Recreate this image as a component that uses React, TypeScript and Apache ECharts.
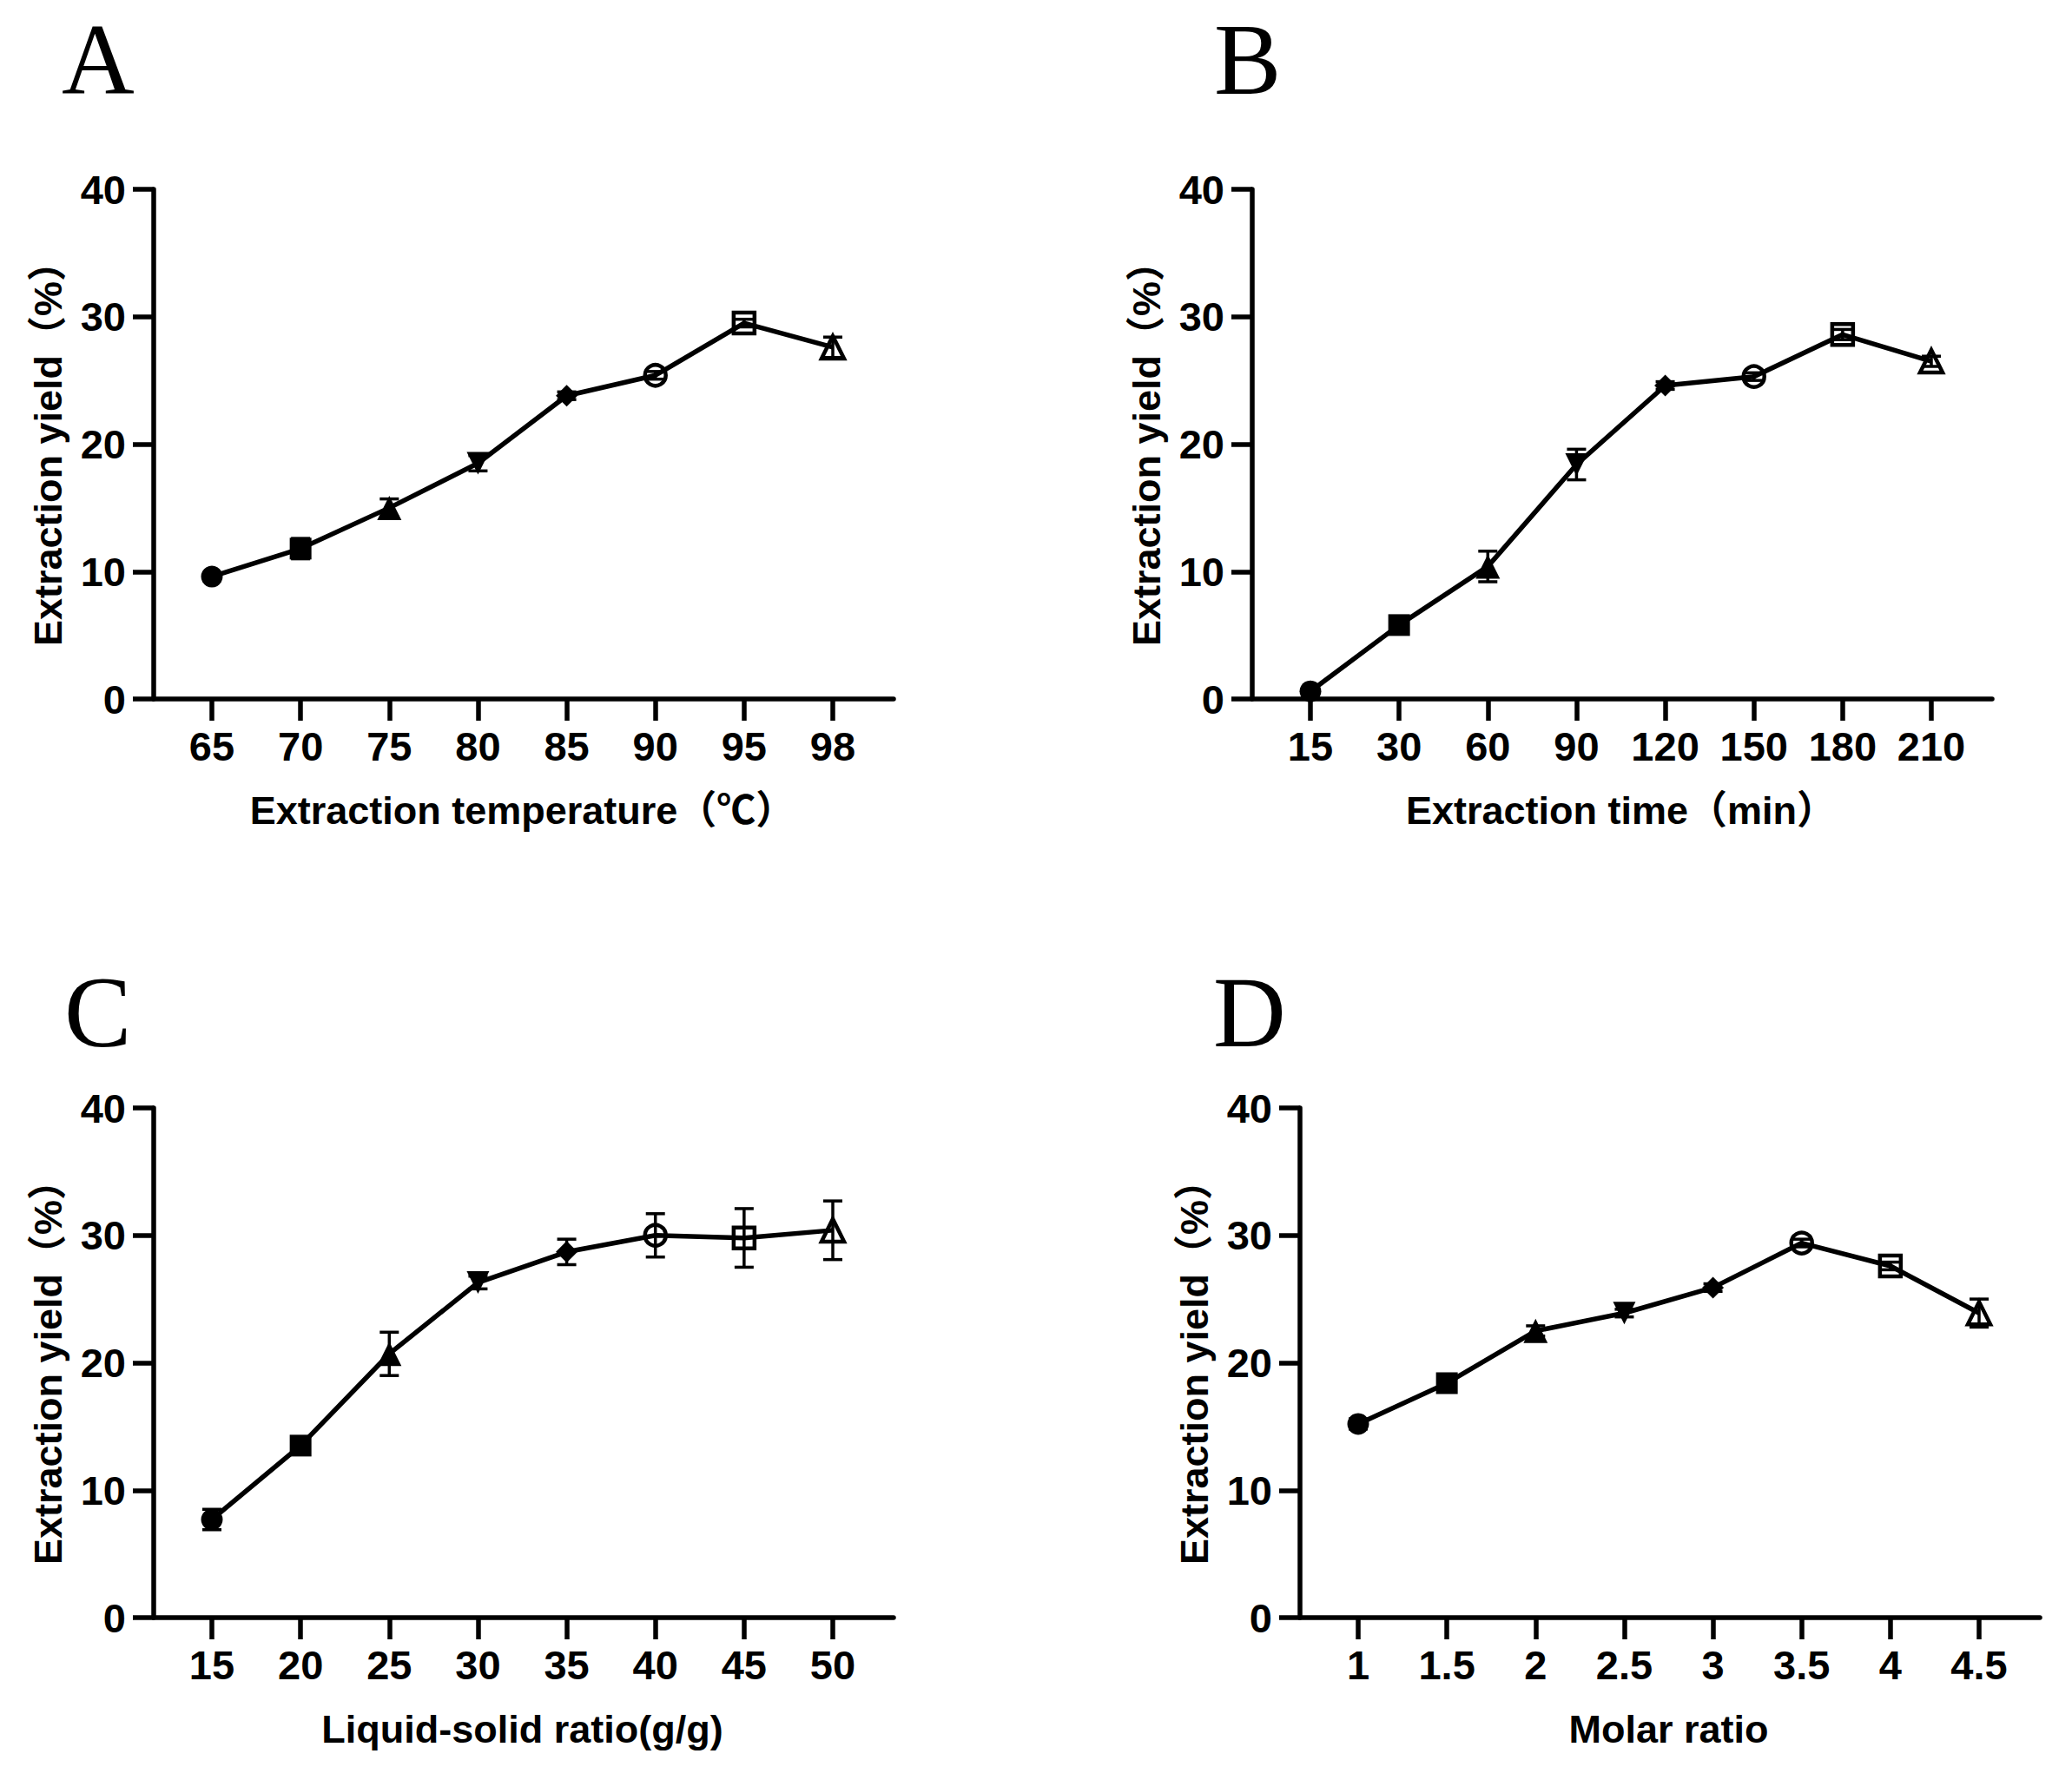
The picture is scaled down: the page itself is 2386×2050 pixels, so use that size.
import React, { useEffect, useRef } from 'react';
import * as echarts from 'echarts';

// ---- data ----
const tempLabels = ['65', '70', '75', '80', '85', '90', '95', '98'];
const tempYield = [9.6, 11.8, 15.0, 18.5, 23.8, 25.4, 29.5, 27.6];
const tempErr = [0.3, 0.8, 0.7, 0.6, 0.3, 0.3, 0.3, 0.8];

const timeLabels = ['15', '30', '60', '90', '120', '150', '180', '210'];
const timeYield = [0.6, 5.8, 10.4, 18.4, 24.6, 25.3, 28.6, 26.5];
const timeErr = [0.2, 0.3, 1.2, 1.2, 0.3, 0.3, 0.4, 0.4];

const ratioLabels = ['15', '20', '25', '30', '35', '40', '45', '50'];
const ratioYield = [7.7, 13.5, 20.7, 26.3, 28.7, 30.0, 29.8, 30.4];
const ratioErr = [0.8, 0.3, 1.7, 0.5, 1.0, 1.7, 2.3, 2.3];

const molarLabels = ['1', '1.5', '2', '2.5', '3', '3.5', '4', '4.5'];
const molarYield = [15.2, 18.4, 22.5, 23.9, 25.9, 29.4, 27.6, 23.9];
const molarErr = [0.4, 0.2, 0.4, 0.3, 0.3, 0.3, 0.3, 1.1];

const yTitle = 'Extraction yield（%）';

const FONT = "'Liberation Sans', Arial, 'Noto Sans CJK SC', sans-serif";
const NARROW = "'Liberation Sans Narrow', 'Arial Narrow', 'Liberation Sans', sans-serif";
const SERIF = "'Liberation Serif', 'Times New Roman', serif";

// panel placement: x of the y axis, y of the x axis (px)
const panels = [
  { letter: 'A', ax: 177, ay: 805, lx: 71, ly: 11, xName: 'Extraction temperature（℃）', labels: tempLabels, values: tempYield, errs: tempErr },
  { letter: 'B', ax: 1442, ay: 805, lx: 1398, ly: 11, xName: 'Extraction time（min）', labels: timeLabels, values: timeYield, errs: timeErr },
  { letter: 'C', ax: 177, ay: 1863, lx: 74, ly: 1108, xName: 'Liquid-solid ratio(g/g)', labels: ratioLabels, values: ratioYield, errs: ratioErr },
  { letter: 'D', ax: 1497, ay: 1863, lx: 1397, ly: 1108, xName: 'Molar ratio', labels: molarLabels, values: molarYield, errs: molarErr },
];

const PLOT_H = 587;
const AXIS_LEN = 852;
const PAD = 67;
const INNER_W = 715;

const hollow = { color: 'transparent', borderColor: '#000', borderWidth: 4.5 };
const filled = { color: '#000', borderWidth: 0 };

// marker for each of the 8 levels (same in every panel)
const markers = [
  { symbol: 'circle', symbolSize: 25, itemStyle: filled },
  { symbol: 'rect', symbolSize: 25, itemStyle: filled },
  { symbol: 'triangle', symbolSize: 28, itemStyle: filled },
  { symbol: 'triangle', symbolSize: 26, symbolRotate: 180, itemStyle: filled },
  { symbol: 'diamond', symbolSize: 25, itemStyle: filled },
  { symbol: 'circle', symbolSize: 24, itemStyle: hollow },
  { symbol: 'rect', symbolSize: 24, itemStyle: hollow },
  { symbol: 'triangle', symbolSize: 26, itemStyle: hollow },
];

const renderErrorBar = (params: any, api: any) => {
  const x = api.value(0);
  const y = api.value(1);
  const e = api.value(2);
  const hi = api.coord([x, y + e]);
  const lo = api.coord([x, y - e]);
  const half = 11;
  const style = { stroke: '#000', lineWidth: 3.5 };
  return {
    type: 'group',
    children: [
      { type: 'line', shape: { x1: hi[0], y1: hi[1], x2: lo[0], y2: lo[1] }, style },
      { type: 'line', shape: { x1: hi[0] - half, y1: hi[1], x2: hi[0] + half, y2: hi[1] }, style },
      { type: 'line', shape: { x1: lo[0] - half, y1: lo[1], x2: lo[0] + half, y2: lo[1] }, style },
    ],
  };
};

const labelStyle = { fontSize: 47, fontWeight: 'bold', color: '#000', fontFamily: NARROW };
const nameStyle = { fontSize: 45, fontWeight: 'bold', color: '#000', fontFamily: FONT };
const axisLine = { show: true, onZero: false, lineStyle: { color: '#000', width: 5.5 } };

const buildOption = () => {
  const grid: any[] = [];
  const xAxis: any[] = [];
  const yAxis: any[] = [];
  const series: any[] = [];
  const title: any[] = [];

  panels.forEach((p, i) => {
    const top = p.ay - PLOT_H;
    // frame grid: carries the y axis and the full-length x axis line
    grid.push({ left: p.ax, top, width: AXIS_LEN, height: PLOT_H, outerBoundsMode: 'none', containLabel: false });
    // data grid: categories sit inside, padded from the axis ends
    grid.push({ left: p.ax + PAD, top, width: INNER_W, height: PLOT_H, outerBoundsMode: 'none', containLabel: false });

    xAxis.push({
      gridIndex: 2 * i, type: 'value', min: 0, max: 1,
      axisLine, axisTick: { show: false }, axisLabel: { show: false }, splitLine: { show: false },
    });
    xAxis.push({
      gridIndex: 2 * i + 1, type: 'value', min: 0, max: 7, interval: 1,
      axisLine: { show: false },
      axisTick: { show: true, inside: false, length: 25, lineStyle: { color: '#000', width: 5.5 } },
      axisLabel: {
        ...labelStyle, margin: 31, showMinLabel: true, showMaxLabel: true,
        formatter: (v: number) => p.labels[Math.round(v)] ?? '',
      },
      splitLine: { show: false },
      name: p.xName, nameLocation: 'middle', nameGap: 106, nameTextStyle: nameStyle,
    });

    yAxis.push({
      gridIndex: 2 * i, type: 'value', min: 0, max: 40, interval: 10,
      axisLine,
      axisTick: { show: true, inside: false, length: 24, lineStyle: { color: '#000', width: 5.5 } },
      axisLabel: { ...labelStyle, margin: 32 },
      splitLine: { show: false },
      name: yTitle, nameLocation: 'middle', nameGap: 99, nameTextStyle: nameStyle,
    });
    yAxis.push({ gridIndex: 2 * i + 1, type: 'value', min: 0, max: 40, show: false, splitLine: { show: false } });

    series.push({
      type: 'custom',
      xAxisIndex: 2 * i + 1, yAxisIndex: 2 * i + 1,
      data: p.values.map((v, k) => [k, v, p.errs[k]]),
      renderItem: renderErrorBar,
      silent: true,
      z: 2,
    });
    series.push({
      type: 'line',
      xAxisIndex: 2 * i + 1, yAxisIndex: 2 * i + 1,
      data: p.values.map((v, k) => ({ value: [k, v], ...markers[k] })),
      lineStyle: { color: '#000', width: 5.5 },
      itemStyle: { color: '#000' },
      showSymbol: true,
      clip: false,
      silent: true,
      z: 3,
    });

    title.push({
      text: p.letter, left: p.lx, top: p.ly, padding: 0,
      textStyle: { fontFamily: SERIF, fontWeight: 'normal', fontSize: 116, color: '#000' },
    });
  });

  return {
    animation: false,
    backgroundColor: '#fff',
    title,
    grid,
    xAxis,
    yAxis,
    series,
  };
};

const App: React.FC = () => {
  const chartRef = useRef<HTMLDivElement>(null);

  useEffect(() => {
    if (!chartRef.current) return;
    const chart = echarts.init(chartRef.current, null, { renderer: 'svg' });
    chart.setOption(buildOption());
    return () => {
      chart.dispose();
    };
  }, []);

  return (
    <div
      ref={chartRef}
      style={{ position: 'fixed', left: 0, top: 0, width: 2386, height: 2050, background: '#fff' }}
    />
  );
};

export default App;
